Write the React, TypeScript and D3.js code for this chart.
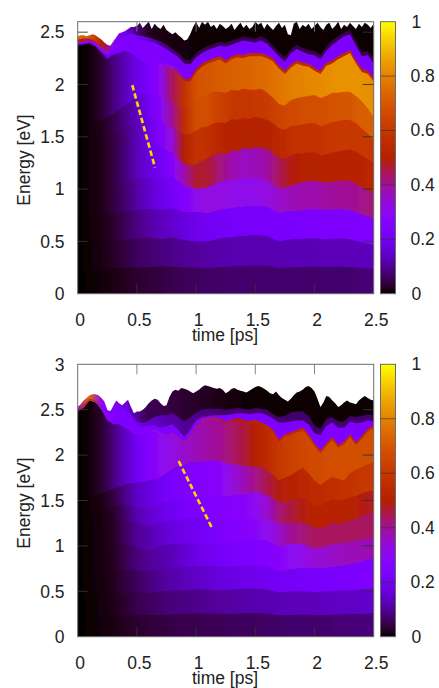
import React from 'react'
import * as d3 from 'd3'

const timeTicks = [0, 0.5, 1, 1.5, 2, 2.5]
const upperEnergyTicks = [0, 0.5, 1, 1.5, 2, 2.5]
const lowerEnergyTicks = [0, 0.5, 1, 1.5, 2, 2.5, 3]
const colorTicks = [0, 0.2, 0.4, 0.6, 0.8, 1]

// contour energies in eV, evenly spaced over 0-2.5 ps, upper panel
const upperC1 = [.2,.22,.23,.24,.25,.25,.255,.26,.26,.25,.25,.24,.255,.26,.265,.27,.265,.245,.25,.255,.26,.255,.26,.255,.245,.235]
const upperC2 = [.46,.48,.5,.5,.51,.53,.54,.52,.54,.51,.5,.5,.53,.54,.555,.56,.55,.5,.52,.525,.53,.52,.53,.52,.49,.465]
const upperC3 = [.72,.74,.76,.77,.78,.8,.81,.8,.82,.78,.78,.77,.8,.82,.83,.84,.83,.77,.79,.8,.81,.8,.81,.8,.76,.72]
const upperC4 = [.95,.98,1,1.02,1.06,1.095,1.11,1.09,1.12,1.03,1,1.02,1.07,1.09,1.1,1.11,1.09,1,1.03,1.07,1.08,1.06,1.08,1.08,1.02,.96]
const upperC5 = [1.2,1.21,1.22,1.23,1.25,1.27,1.3,1.33,1.35,1.38,1.39,1.41,1.42,1.4,1.4,1.37,1.35,1.29,1.24,1.22,1.24,1.27,1.3,1.33,1.34,1.33,1.37,1.36,1.39,1.38,1.4,1.39,1.38,1.35,1.3,1.29,1.32,1.34,1.34,1.35,1.35,1.32,1.33,1.35,1.36,1.37,1.38,1.36,1.32,1.29,1.25]
const upperC6 = [1.4,1.41,1.42,1.44,1.46,1.49,1.52,1.55,1.58,1.61,1.64,1.67,1.69,1.67,1.65,1.61,1.58,1.55,1.52,1.53,1.56,1.59,1.6,1.63,1.64,1.63,1.67,1.66,1.68,1.67,1.69,1.68,1.66,1.63,1.58,1.57,1.6,1.61,1.62,1.63,1.63,1.6,1.62,1.64,1.65,1.66,1.66,1.63,1.58,1.53,1.47]
const upperC7 = [1.6,1.61,1.62,1.64,1.66,1.69,1.72,1.76,1.8,1.84,1.88,1.91,1.92,1.9,1.88,1.85,1.82,1.79,1.77,1.79,1.85,1.88,1.91,1.93,1.93,1.92,1.95,1.94,1.96,1.95,1.95,1.96,1.92,1.87,1.81,1.8,1.85,1.87,1.88,1.89,1.9,1.87,1.89,1.92,1.92,1.93,1.93,1.89,1.84,1.77,1.69]
const upperC8 = [2.37,2.38,2.39,2.36,2.3,2.24,2.28,2.3,2.32,2.3,2.26,2.22,2.2,2.2,2.2,2.17,2.15,2.1,2.03,2.03,2.12,2.17,2.2,2.22,2.24,2.2,2.24,2.26,2.25,2.27,2.27,2.27,2.25,2.22,2.15,2.1,2.16,2.2,2.18,2.17,2.13,2.1,2.18,2.2,2.24,2.27,2.3,2.2,2.12,2.1,2.03]
const upperRim = [2.385,2.39,2.4,2.37,2.31,2.27,2.31,2.33,2.35,2.33,2.29,2.25,2.23,2.23,2.23,2.2,2.18,2.13,2.06,2.06,2.15,2.2,2.23,2.25,2.27,2.23,2.27,2.29,2.28,2.3,2.3,2.3,2.28,2.25,2.18,2.13,2.19,2.23,2.21,2.2,2.16,2.13,2.21,2.23,2.27,2.3,2.33,2.23,2.15,2.13,2.06]
const upperPurple = [2.4,2.41,2.42,2.39,2.33,2.29,2.33,2.38,2.42,2.44,2.43,2.42,2.41,2.4,2.37,2.34,2.3,2.26,2.2,2.19,2.26,2.3,2.33,2.35,2.37,2.36,2.38,2.4,2.42,2.41,2.4,2.42,2.39,2.33,2.27,2.22,2.3,2.34,2.31,2.29,2.28,2.24,2.32,2.38,2.42,2.46,2.48,2.37,2.27,2.28,2.2]
const upperDark = [2.43,2.44,2.44,2.41,2.36,2.31,2.36,2.42,2.46,2.49,2.47,2.46,2.45,2.43,2.41,2.38,2.34,2.3,2.24,2.23,2.3,2.34,2.37,2.39,2.41,2.4,2.42,2.44,2.46,2.45,2.44,2.46,2.43,2.37,2.31,2.26,2.34,2.38,2.35,2.33,2.32,2.28,2.36,2.42,2.46,2.5,2.52,2.41,2.31,2.32,2.24]
const upperTop = [2.46,2.47,2.47,2.46,2.47,2.48,2.47,2.45,2.43,2.4,2.38,2.37,2.41,2.45,2.49,2.5,2.51,2.53,2.55,2.55,2.56,
  2.59,2.54,2.57,2.6,2.53,2.58,2.55,2.53,2.57,2.52,2.5,2.48,2.5,2.47,2.45,2.42,2.43,2.48,2.55,2.6,
  2.54,2.6,2.57,2.6,2.55,2.57,2.53,2.58,2.56,2.53,2.55,2.58,2.52,2.56,2.59,2.54,2.57,2.53,2.55,2.6,
  2.57,2.59,2.53,2.58,2.55,2.52,2.56,2.59,2.54,2.57,2.48,2.47,2.58,2.6,2.53,2.57,2.55,2.58,2.53,2.56,
  2.59,2.55,2.52,2.57,2.59,2.53,2.56,2.6,2.53,2.57,2.55,2.59,2.56,2.53,2.58,2.55,2.59,2.57,2.54,2.58]

// band intensities at 0, 0.1, ... 2.5 ps, upper panel
const upperV0 = [0,.002,.005,.012,.02,.03,.035,.04,.05,.055,.06,.065,.065,.07,.07,.07,.07,.07,.07,.07,.07,.07,.07,.07,.075,.08]
const upperV1 = [0,.003,.01,.025,.04,.06,.07,.08,.09,.1,.105,.11,.115,.12,.12,.12,.12,.12,.125,.125,.125,.13,.13,.13,.13,.135]
const upperV2 = [0,.004,.012,.03,.055,.085,.11,.13,.15,.17,.19,.2,.21,.215,.22,.22,.22,.225,.23,.235,.24,.24,.245,.25,.25,.25]
const upperV3 = [0,.005,.015,.04,.07,.11,.15,.18,.21,.26,.31,.33,.33,.32,.31,.32,.33,.35,.37,.38,.38,.39,.4,.4,.41,.42]
const upperV4 = [0,.005,.015,.04,.08,.13,.17,.2,.27,.38,.47,.47,.42,.38,.36,.37,.39,.44,.49,.5,.5,.51,.51,.52,.52,.53]
const upperV5 = [0,.005,.015,.04,.08,.13,.18,.25,.34,.5,.58,.57,.53,.5,.5,.5,.51,.54,.57,.58,.58,.59,.6,.6,.6,.6]
const upperV6 = [0,.005,.016,.045,.09,.14,.2,.28,.4,.56,.67,.67,.63,.6,.59,.6,.61,.64,.66,.67,.67,.68,.69,.7,.72,.72]
const upperV7 = [0,.005,.03,.08,.13,.18,.23,.3,.44,.58,.68,.7,.71,.72,.73,.74,.75,.77,.79,.8,.81,.82,.83,.83,.83,.82]
const upperV8 = [.1,.12,.15,.2,.24,.25,.26,.26,.35,.45,.5,.55,.55,.55,.55,.55,.55,.55,.55,.55,.55,.55,.55,.55,.55,.55]
const upperV9 = [.3,.3,.27,.25,.25,.25,.25,.24,.24,.24,.24,.24,.24,.24,.24,.24,.24,.24,.24,.24,.24,.24,.24,.24,.24,.24]
const upperV10 = [.5,.45,.35,.27,.25,.22,.15,.09,.07,.05,.05,.05,.05,.05,.05,.05,.05,.05,.05,.05,.05,.05,.05,.05,.05,.05]
const upperV11 = [.75,.7,.5,.3,.2,.08,.02,.012,.008,.006,.003,.003,.003,.003,.003,.003,.003,.003,.003,.003,.003,.003,.003,.003,.003,.003]

// same contours for the lower panel
const lowerC1 = [.2,.21,.22,.22,.23,.235,.24,.24,.245,.25,.255,.255,.25,.25,.255,.26,.25,.235,.24,.245,.235,.24,.245,.25,.25,.26]
const lowerC2 = [.44,.45,.46,.47,.48,.49,.48,.5,.51,.51,.52,.52,.51,.52,.53,.53,.52,.49,.5,.5,.49,.5,.51,.51,.52,.53]
const lowerC3 = [.68,.69,.7,.72,.74,.73,.72,.74,.76,.77,.78,.78,.77,.77,.79,.79,.77,.72,.74,.76,.76,.76,.78,.8,.83,.87]
const lowerC4 = [.92,.94,.97,1,1.03,.98,.95,1,1.02,1.03,1.03,1.03,1.03,1.04,1.06,1.08,1.06,.99,1.02,1.02,.97,1,1.03,1.04,1.07,1.1]
const lowerC5 = [1.15,1.16,1.17,1.18,1.2,1.22,1.25,1.27,1.28,1.27,1.25,1.23,1.23,1.24,1.26,1.27,1.29,1.28,1.3,1.31,1.3,1.31,1.29,1.28,1.27,1.26,1.28,1.29,1.29,1.28,1.3,1.29,1.28,1.27,1.25,1.24,1.25,1.26,1.25,1.23,1.2,1.2,1.22,1.26,1.24,1.26,1.28,1.3,1.33,1.35,1.37]
const lowerC6 = [1.3,1.31,1.33,1.35,1.38,1.4,1.43,1.45,1.46,1.44,1.43,1.42,1.42,1.44,1.47,1.48,1.5,1.5,1.52,1.54,1.54,1.53,1.52,1.51,1.53,1.55,1.55,1.57,1.57,1.58,1.59,1.58,1.56,1.52,1.48,1.48,1.51,1.52,1.52,1.5,1.45,1.44,1.48,1.52,1.5,1.51,1.53,1.55,1.58,1.6,1.61]
const lowerC7 = [1.5,1.51,1.53,1.55,1.58,1.6,1.63,1.65,1.68,1.69,1.7,1.71,1.72,1.74,1.76,1.8,1.85,1.88,1.9,1.92,1.92,1.93,1.94,1.94,1.93,1.91,1.9,1.89,1.88,1.88,1.87,1.87,1.83,1.78,1.72,1.75,1.78,1.82,1.86,1.8,1.72,1.67,1.72,1.76,1.74,1.72,1.8,1.84,1.87,1.9,1.92]
const lowerC8 = [2.48,2.52,2.6,2.58,2.5,2.38,2.34,2.34,2.3,2.26,2.22,2.22,2.24,2.26,2.22,2.2,2.22,2.17,2.12,2.2,2.3,2.37,2.38,2.39,2.37,2.34,2.36,2.38,2.36,2.34,2.36,2.33,2.3,2.25,2.14,2.2,2.22,2.25,2.27,2.2,2.1,2.02,2.1,2.17,2.08,2.12,2.2,2.11,2.18,2.26,2.3]
const lowerRim = [2.49,2.53,2.61,2.59,2.51,2.4,2.37,2.37,2.33,2.29,2.25,2.25,2.27,2.29,2.25,2.23,2.25,2.2,2.15,2.23,2.33,2.4,2.41,2.42,2.4,2.37,2.39,2.41,2.39,2.37,2.39,2.36,2.33,2.28,2.17,2.23,2.25,2.28,2.3,2.23,2.13,2.05,2.13,2.2,2.11,2.15,2.23,2.14,2.21,2.29,2.33]
const lowerPurple = [2.5,2.55,2.62,2.6,2.53,2.45,2.46,2.47,2.44,2.38,2.33,2.31,2.32,2.33,2.3,2.32,2.34,2.28,2.2,2.28,2.38,2.42,2.43,2.44,2.44,2.44,2.45,2.46,2.46,2.45,2.46,2.46,2.44,2.4,2.36,2.36,2.37,2.38,2.38,2.34,2.24,2.22,2.32,2.36,2.3,2.3,2.37,2.35,2.36,2.38,2.37]
const lowerDark = [2.51,2.56,2.63,2.61,2.55,2.48,2.5,2.52,2.51,2.45,2.37,2.35,2.38,2.42,2.44,2.44,2.46,2.42,2.37,2.41,2.47,2.5,2.51,2.51,2.51,2.5,2.51,2.52,2.51,2.5,2.52,2.51,2.5,2.45,2.42,2.43,2.47,2.48,2.48,2.43,2.33,2.29,2.4,2.42,2.37,2.37,2.43,2.42,2.43,2.45,2.44]
const lowerTop = [2.53,2.56,2.6,2.63,2.66,2.67,2.67,2.66,2.63,2.59,2.5,2.48,2.54,2.6,2.57,2.55,2.58,2.61,2.53,2.46,2.48,
  2.48,2.5,2.53,2.57,2.6,2.62,2.61,2.57,2.54,2.55,2.64,2.7,2.72,2.71,2.74,2.73,2.72,2.7,2.68,2.7,
  2.72,2.75,2.77,2.76,2.75,2.74,2.73,2.74,2.72,2.68,2.7,2.73,2.74,2.72,2.71,2.7,2.69,2.71,2.73,2.75,
  2.76,2.75,2.73,2.71,2.68,2.67,2.7,2.66,2.63,2.61,2.59,2.62,2.66,2.69,2.7,2.72,2.75,2.76,2.74,2.7,
  2.62,2.53,2.58,2.65,2.64,2.6,2.57,2.53,2.55,2.58,2.6,2.58,2.57,2.56,2.6,2.63,2.65,2.63,2.61,2.6]

const lowerV0 = [0,.002,.005,.01,.02,.03,.035,.04,.045,.05,.05,.055,.055,.06,.06,.06,.065,.065,.07,.07,.07,.07,.075,.075,.08,.08]
const lowerV1 = [0,.002,.006,.015,.03,.05,.06,.07,.08,.085,.09,.1,.105,.11,.115,.12,.12,.125,.13,.13,.13,.135,.14,.14,.145,.15]
const lowerV2 = [0,.003,.007,.018,.04,.06,.08,.1,.115,.13,.14,.155,.165,.175,.185,.19,.2,.205,.21,.215,.22,.225,.23,.24,.245,.25]
const lowerV3 = [0,.003,.008,.02,.05,.08,.1,.115,.13,.155,.18,.195,.21,.225,.24,.25,.265,.28,.3,.32,.34,.35,.36,.37,.375,.38]
const lowerV4 = [0,.003,.008,.022,.06,.1,.12,.145,.17,.185,.2,.215,.24,.255,.27,.28,.31,.35,.4,.42,.44,.44,.44,.44,.44,.44]
const lowerV5 = [0,.003,.009,.025,.07,.12,.15,.175,.2,.22,.24,.25,.26,.27,.285,.3,.35,.42,.46,.49,.52,.52,.52,.51,.49,.48]
const lowerV6 = [0,.004,.012,.04,.09,.14,.17,.2,.23,.25,.26,.27,.28,.33,.37,.41,.45,.49,.51,.53,.55,.56,.57,.58,.6,.6]
const lowerV7 = [0,.005,.03,.08,.14,.2,.26,.3,.33,.35,.37,.39,.4,.43,.46,.5,.55,.6,.63,.65,.66,.67,.68,.68,.68,.68]
const lowerV8 = [.5,.7,.35,.24,.25,.26,.28,.32,.36,.38,.4,.42,.45,.48,.5,.52,.55,.55,.55,.55,.55,.55,.55,.55,.55,.55]
const lowerV9 = [.3,.6,.28,.25,.25,.25,.25,.24,.25,.26,.26,.26,.26,.26,.25,.25,.25,.25,.25,.25,.25,.25,.25,.25,.25,.25]
const lowerV10 = [.35,.7,.3,.26,.24,.2,.15,.13,.11,.1,.09,.08,.07,.07,.07,.07,.07,.07,.07,.07,.07,.07,.07,.07,.07,.07]
const lowerV11 = [.4,.75,.3,.26,.18,.1,.05,.05,.04,.03,.025,.02,.012,.008,.004,.004,.004,.004,.004,.004,.004,.004,.004,.004,.004,.004]

const upperEdges = [upperC1, upperC2, upperC3, upperC4, upperC5, upperC6, upperC7, upperC8, upperRim, upperPurple, upperDark, upperTop]
const upperLevels = [upperV0, upperV1, upperV2, upperV3, upperV4, upperV5, upperV6, upperV7, upperV8, upperV9, upperV10, upperV11]
const lowerEdges = [lowerC1, lowerC2, lowerC3, lowerC4, lowerC5, lowerC6, lowerC7, lowerC8, lowerRim, lowerPurple, lowerDark, lowerTop]
const lowerLevels = [lowerV0, lowerV1, lowerV2, lowerV3, lowerV4, lowerV5, lowerV6, lowerV7, lowerV8, lowerV9, lowerV10, lowerV11]

// dashed guide: [time, energy] at both ends
const upperGuide = [[0.461, 1.994], [0.653, 1.205]]
const lowerGuide = [[0.853, 1.933], [1.137, 1.19]]

// gnuplot rgbformulae 7,5,15
function palette(v: number) {
  const r = Math.sqrt(v)
  const g = v * v * v
  const b = Math.max(0, Math.sin(2 * Math.PI * v))
  return d3.rgb(r * 255, g * 255, b * 255).formatHex()
}

const font = '"Liberation Sans", Arial, sans-serif'
const textColor = '#222'
const frameColor = '#6b6b6b'
const fs = 17.5

type PanelProps = {
  id: string
  top: number
  bottom: number
  maxE: number
  ticks: number[]
  edges: number[][]
  levels: number[][]
  guide: number[][]
  titleY: number
}

function Panel({ id, top, bottom, maxE, ticks, edges, levels, guide, titleY }: PanelProps) {
  const left = 77.7
  const right = 373.7
  const x = d3.scaleLinear().domain([0, 2.5]).range([left, right])
  const y = d3.scaleLinear().domain([0, maxE]).range([bottom, top])
  const cbar = d3.scaleLinear().domain([0, 1]).range([bottom, top])
  const barSteps = d3.range(0, 51).map(i => i / 50)

  return (
    <g>
      <defs>
        <clipPath id={`${id}-clip`}>
          <rect x={left} y={top} width={right - left} height={bottom - top} />
        </clipPath>
        <filter id={`${id}-soft`} x="-2%" y="-2%" width="104%" height="104%">
          <feGaussianBlur stdDeviation="0.6" />
        </filter>
        {levels.map((vals, k) => (
          <linearGradient key={k} id={`${id}-band${k}`} gradientUnits="userSpaceOnUse" x1={left} x2={right} y1={0} y2={0}>
            {vals.map((v, i) => (
              <stop key={i} offset={i / (vals.length - 1)} stopColor={palette(v)} />
            ))}
          </linearGradient>
        ))}
        <linearGradient id={`${id}-bar`} x1="0" x2="0" y1="1" y2="0">
          {barSteps.map(v => (
            <stop key={v} offset={v} stopColor={palette(v)} />
          ))}
        </linearGradient>
      </defs>

      {/* bands painted top one first, each lower one covers the rest */}
      <g clipPath={`url(#${id}-clip)`}>
        <g filter={`url(#${id}-soft)`}>
          {edges.map((_, k) => edges.length - 1 - k).map(k => {
            const line = edges[k]
            const t = d3.scaleLinear().domain([0, line.length - 1]).range([0, 2.5])
            const area = d3.area<number>()
              .x((_, i) => x(t(i)))
              .y0(bottom + 6)
              .y1(e => y(e))
            return <path key={k} d={area(line) || ''} fill={`url(#${id}-band${k})`} />
          })}
        </g>
      </g>

      <line
        x1={x(guide[0][0])} y1={y(guide[0][1])} x2={x(guide[1][0])} y2={y(guide[1][1])}
        stroke="#fbd800" strokeWidth={2.6} strokeDasharray="5.5 3"
      />

      {/* ticks on all four sides */}
      <g stroke="#333" strokeWidth={0.9}>
        {timeTicks.slice(1, -1).map(v => (
          <g key={v}>
            <line x1={x(v)} x2={x(v)} y1={bottom} y2={bottom - 10} />
            <line x1={x(v)} x2={x(v)} y1={top} y2={top + 10} stroke="#777" />
          </g>
        ))}
        {ticks.filter(v => v > 0 && v < maxE).map(v => (
          <g key={v}>
            <line x1={left} x2={left + 10} y1={y(v)} y2={y(v)} />
            <line x1={right} x2={right - 11} y1={y(v)} y2={y(v)} />
          </g>
        ))}
      </g>
      <rect x={left} y={top} width={right - left} height={bottom - top} fill="none" stroke={frameColor} strokeWidth={1} />

      <rect x={380.5} y={top} width={15} height={bottom - top} fill={`url(#${id}-bar)`} stroke={frameColor} strokeWidth={1} />
      {colorTicks.slice(1, -1).map(v => (
        <line key={v} x1={380.5} x2={395.5} y1={cbar(v)} y2={cbar(v)} stroke="#333" strokeWidth={0.8} strokeOpacity={0.8} />
      ))}

      <g fontFamily={font} fontSize={fs} fill={textColor}>
        {ticks.map(v => (
          <text key={v} x={64.5} y={y(v)} dy="0.36em" textAnchor="end">{v}</text>
        ))}
        {timeTicks.map(v => (
          <text key={v} x={x(v) + 2.5} y={bottom + 32.5} textAnchor="middle">{v}</text>
        ))}
        {colorTicks.map(v => (
          <text key={v} x={v === 1 || v === 0 ? 411.5 : 410.5} y={cbar(v)} dy="0.34em">{v}</text>
        ))}
        <text x={225} y={bottom + 47.5} textAnchor="middle">time [ps]</text>
        <text transform={`translate(30,${titleY}) rotate(-90)`} textAnchor="middle">Energy [eV]</text>
      </g>
    </g>
  )
}

export default function App() {
  return (
    <svg width={439} height={688} style={{ position: 'absolute', left: 0, top: 0 }}>
      <rect width={439} height={688} fill="#fff" />
      <Panel id="upper" top={21.7} bottom={293.7} maxE={2.6} ticks={upperEnergyTicks} edges={upperEdges} levels={upperLevels} guide={upperGuide} titleY={160} />
      <Panel id="lower" top={364.3} bottom={636.7} maxE={3} ticks={lowerEnergyTicks} edges={lowerEdges} levels={lowerLevels} guide={lowerGuide} titleY={503} />
    </svg>
  )
}
